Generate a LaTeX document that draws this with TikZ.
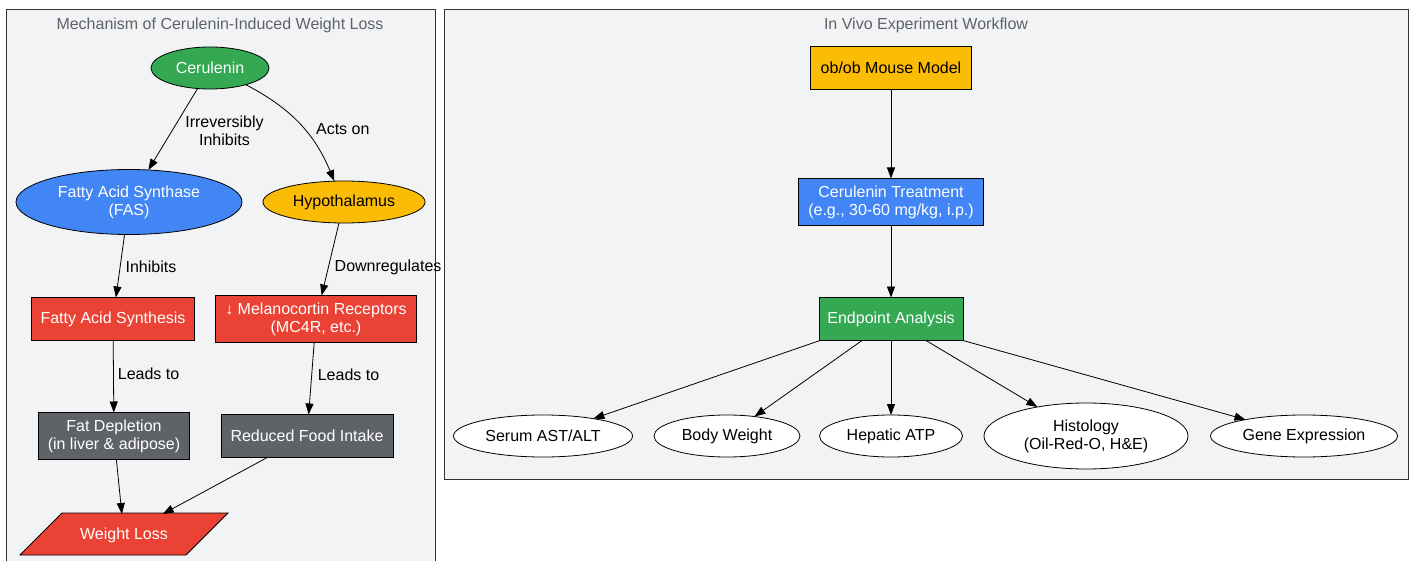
\documentclass[tikz,border=0pt]{standalone}
\usepackage{fontspec}
\setmainfont{Liberation Sans}
\usetikzlibrary{arrows.meta}
\usetikzlibrary{shapes.geometric}

\definecolor{ggreen}{HTML}{34A853}
\definecolor{gblue}{HTML}{4285F4}
\definecolor{gyellow}{HTML}{FBBC05}
\definecolor{gred}{HTML}{EA4335}
\definecolor{ggray}{HTML}{5F6368}
\definecolor{bggray}{HTML}{F1F3F4}

\tikzset{
  base/.style={draw=black, line width=0.8pt, font=\fontsize{16}{18}\selectfont,
    align=center, inner sep=0pt, outer sep=0pt},
  oval/.style={base, ellipse},
  box/.style={base, rectangle},
  lbl/.style={font=\fontsize{16}{18}\selectfont, align=center, text=black, inner sep=1pt},
  cluster/.style={draw=black!80, fill=bggray, line width=0.8pt},
  ctitle/.style={text=ggray, font=\fontsize{16}{18}\selectfont}
}

\begin{document}
\begin{tikzpicture}[x=1pt, y=-1pt, line width=0.8pt,
    >={Stealth[length=11pt, width=8pt, inset=0pt]}]
\useasboundingbox (0,0) rectangle (1410,561);

% clusters
\draw[cluster] (6,9) rectangle (435,580);
\draw[cluster] (444,9) rectangle (1408,479);
\node[ctitle] (t_mech) at (220,25) {Mechanism of Cerulenin-Induced Weight Loss};
\node[ctitle] (t_flow) at (926,25) {In Vivo Experiment Workflow};

% mechanism
\node[oval, fill=ggreen, text=white, minimum width=118, minimum height=42] (cer) at (210,68) {Cerulenin};
\node[oval, fill=gblue, text=white, minimum width=226, minimum height=65] (fas) at (129,202) {Fatty Acid Synthase\\(FAS)};
\node[oval, fill=gyellow, minimum width=162, minimum height=42] (hypo) at (344,202) {Hypothalamus};
\node[box, fill=gred, text=white, minimum width=163, minimum height=43] (fasyn) at (113,319) {Fatty Acid Synthesis};
\node[box, fill=gred, text=white, minimum width=201, minimum height=47] (mcr) at (316,319) {↓ Melanocortin Receptors\\(MC4R, etc.)};
\node[box, fill=ggray, text=white, minimum width=151, minimum height=47] (fatdep) at (114,436) {Fat Depletion\\(in liver \& adipose)};
\node[box, fill=ggray, text=white, minimum width=172, minimum height=43] (food) at (307,436) {Reduced Food Intake};
\draw[fill=gred] (62,513) -- (228,513) -- (186,555) -- (20,555) -- cycle;
\node[base, draw=none, text=white, minimum width=208, minimum height=42] (loss) at (124,535) {Weight Loss};

\path[->]
    (cer) edge node[lbl, right=11pt, yshift=-2pt] {Irreversibly\\Inhibits} (fas)
    (cer) edge[bend left=20] node[lbl, right=15pt, yshift=-5pt] {Acts on} (hypo)
    (fas) edge node[lbl, right=4pt, yshift=-1pt] {Inhibits} (fasyn)
    (hypo) edge node[lbl, right=3pt, yshift=-8pt] {Downregulates} (mcr)
    (fasyn) edge node[lbl, right=3pt, yshift=3pt] {Leads to} (fatdep)
    (mcr) edge node[lbl, right=5pt, yshift=4pt] {Leads to} (food)
    (fatdep) edge (loss)
    (food) edge (loss);

% workflow
\node[box, fill=gyellow, minimum width=161, minimum height=43] (mouse) at (891,68) {ob/ob Mouse Model};
\node[box, fill=gblue, text=white, minimum width=185, minimum height=47] (treat) at (891,202) {Cerulenin Treatment\\(e.g., 30-60 mg/kg, i.p.)};
\node[box, fill=ggreen, text=white, minimum width=144, minimum height=43] (endpt) at (891,319) {Endpoint Analysis};
\node[oval, fill=white, minimum width=179, minimum height=42] (ast) at (543,436) {Serum AST/ALT};
\node[oval, fill=white, minimum width=146, minimum height=42] (bw) at (727,436) {Body Weight};
\node[oval, fill=white, minimum width=143, minimum height=42] (atp) at (891,436) {Hepatic ATP};
\node[oval, fill=white, minimum width=204, minimum height=66] (histo) at (1086,436) {Histology\\(Oil-Red-O, H\&E)};
\node[oval, fill=white, minimum width=187, minimum height=42] (gene) at (1304,436) {Gene Expression};

\path[->]
    (mouse) edge (treat)
    (treat) edge (endpt)
    ([xshift=-71pt]endpt.south) edge (ast)
    ([xshift=-29pt]endpt.south) edge (bw)
    (endpt) edge (atp)
    ([xshift=35pt]endpt.south) edge (histo)
    ([xshift=72pt]endpt.south) edge (gene);

\end{tikzpicture}
\end{document}
